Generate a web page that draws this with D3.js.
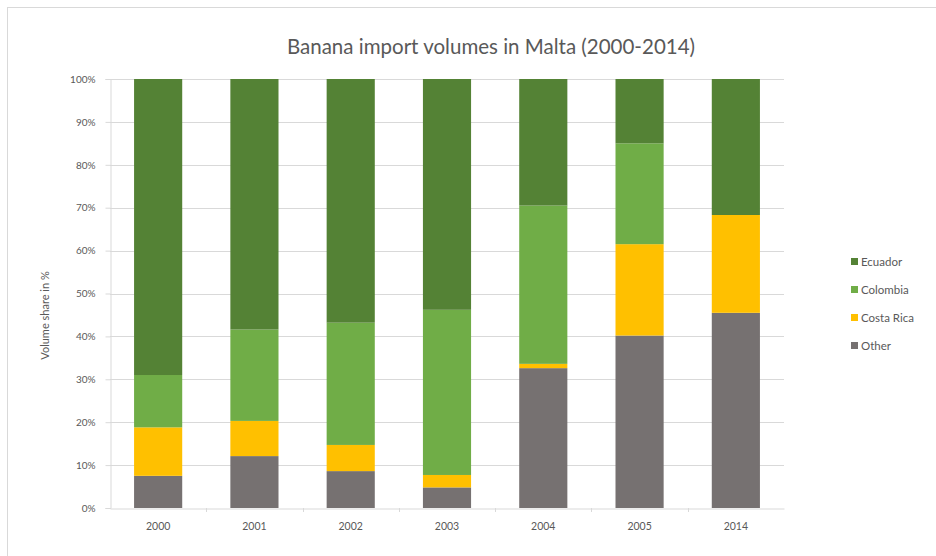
<!DOCTYPE html>
<html>
<head>
<meta charset="utf-8">
<script src="https://cdn.jsdelivr.net/npm/d3@7"></script>
<style>
  body { margin: 0; background: #fff; }
  text { font-family: Lato, "Noto Sans", sans-serif; }
</style>
</head>
<body>
<div id="chart"></div>
<script>
// DATA
const years = ["2000", "2001", "2002", "2003", "2004", "2005", "2014"];
const other = [7.5, 12.1, 8.6, 4.8, 32.6, 40.2, 45.5];
const costaRica = [11.3, 8.2, 6.1, 2.9, 1.0, 21.3, 22.8];
const colombia = [12.2, 21.3, 28.5, 38.5, 36.9, 23.5, 0];
const ecuador = [69.0, 58.4, 56.8, 53.8, 29.5, 15.0, 31.7];
const yTicks = [0, 10, 20, 30, 40, 50, 60, 70, 80, 90, 100];

const seriesNames = ["Other", "Costa Rica", "Colombia", "Ecuador"];
const seriesColors = ["#767171", "#FFC000", "#70AD47", "#548235"];

// DIMENSIONS
const WIDTH = 936;
const HEIGHT = 556;
const PLOT = { left: 110, right: 784, top: 79, bottom: 508 };

const rows = years.map((y, i) => ({
  year: y,
  "Other": other[i],
  "Costa Rica": costaRica[i],
  "Colombia": colombia[i],
  "Ecuador": ecuador[i]
}));
const stacked = d3.stack().keys(seriesNames)(rows);

// SCALES
const x = d3.scaleBand()
  .domain(years)
  .range([PLOT.left, PLOT.right])
  .paddingInner(0.5)
  .paddingOuter(0.25);

const y = d3.scaleLinear()
  .domain([0, 100])
  .range([PLOT.bottom, PLOT.top]);

const color = d3.scaleOrdinal().domain(seriesNames).range(seriesColors);

const svg = d3.select("#chart").append("svg")
  .attr("width", WIDTH)
  .attr("height", HEIGHT);

// chart border (top & left visible)
svg.append("line").attr("x1", 7).attr("x2", WIDTH).attr("y1", 7.5).attr("y2", 7.5)
  .attr("stroke", "#d9d9d9");
svg.append("line").attr("x1", 7.5).attr("x2", 7.5).attr("y1", 7).attr("y2", HEIGHT)
  .attr("stroke", "#d9d9d9");

// title
svg.append("text")
  .attr("x", 491)
  .attr("y", 54)
  .attr("text-anchor", "middle")
  .style("font-size", "20.5px")
  .attr("fill", "#595959")
  .text("Banana import volumes in Malta (2000-2014)");

// gridlines
svg.append("g")
  .selectAll("line")
  .data(yTicks.slice(1))
  .join("line")
  .attr("x1", PLOT.left)
  .attr("x2", PLOT.right)
  .attr("y1", d => Math.round(y(d)) + 0.5)
  .attr("y2", d => Math.round(y(d)) + 0.5)
  .attr("stroke", "#d9d9d9");

// y axis
const yAxis = svg.append("g")
  .attr("transform", `translate(${PLOT.left + 0.5},0)`)
  .call(d3.axisLeft(y).tickValues(yTicks).tickFormat(d => d + "%").tickSize(5).tickPadding(10));
yAxis.select(".domain").attr("stroke", "#d9d9d9");
yAxis.selectAll(".tick line").attr("stroke", "#d9d9d9");
yAxis.selectAll("text").attr("fill", "#595959").style("font-size", "10px");

// x axis
const xAxis = svg.append("g")
  .attr("transform", `translate(0,${PLOT.bottom + 0.5})`)
  .call(d3.axisBottom(x).tickSize(0).tickPadding(14));
xAxis.select(".domain").attr("stroke", "#d9d9d9");
xAxis.selectAll("text").attr("fill", "#595959").style("font-size", "10.5px");

// category boundary ticks
svg.append("g")
  .selectAll("line")
  .data(years.slice(1))
  .join("line")
  .attr("x1", d => Math.round(x(d) - x.step() * x.paddingInner() / 2) + 0.5)
  .attr("x2", d => Math.round(x(d) - x.step() * x.paddingInner() / 2) + 0.5)
  .attr("y1", PLOT.bottom)
  .attr("y2", PLOT.bottom + 4)
  .attr("stroke", "#d9d9d9");

// y axis title
svg.append("text")
  .attr("transform", `translate(49,${(PLOT.top + PLOT.bottom) / 2 + 22}) rotate(-90)`)
  .attr("text-anchor", "middle")
  .style("font-size", "11px")
  .attr("fill", "#595959")
  .text("Volume share in %");

// bars
svg.append("g")
  .selectAll("g")
  .data(stacked)
  .join("g")
  .attr("fill", d => color(d.key))
  .selectAll("rect")
  .data(d => d)
  .join("rect")
  .attr("x", d => x(d.data.year))
  .attr("width", x.bandwidth())
  .attr("y", d => y(d[1]))
  .attr("height", d => y(d[0]) - y(d[1]));

// legend
const legendOrder = ["Ecuador", "Colombia", "Costa Rica", "Other"];
const legend = svg.append("g")
  .selectAll("g")
  .data(legendOrder)
  .join("g")
  .attr("transform", (d, i) => `translate(851,${262 + i * 28})`);
legend.append("rect")
  .attr("x", 0).attr("y", -4)
  .attr("width", 7).attr("height", 7)
  .attr("fill", d => color(d));
legend.append("text")
  .attr("x", 10).attr("y", 0)
  .attr("dy", "0.35em")
  .style("font-size", "11.5px")
  .attr("fill", "#595959")
  .text(d => d);
</script>
</body>
</html>
